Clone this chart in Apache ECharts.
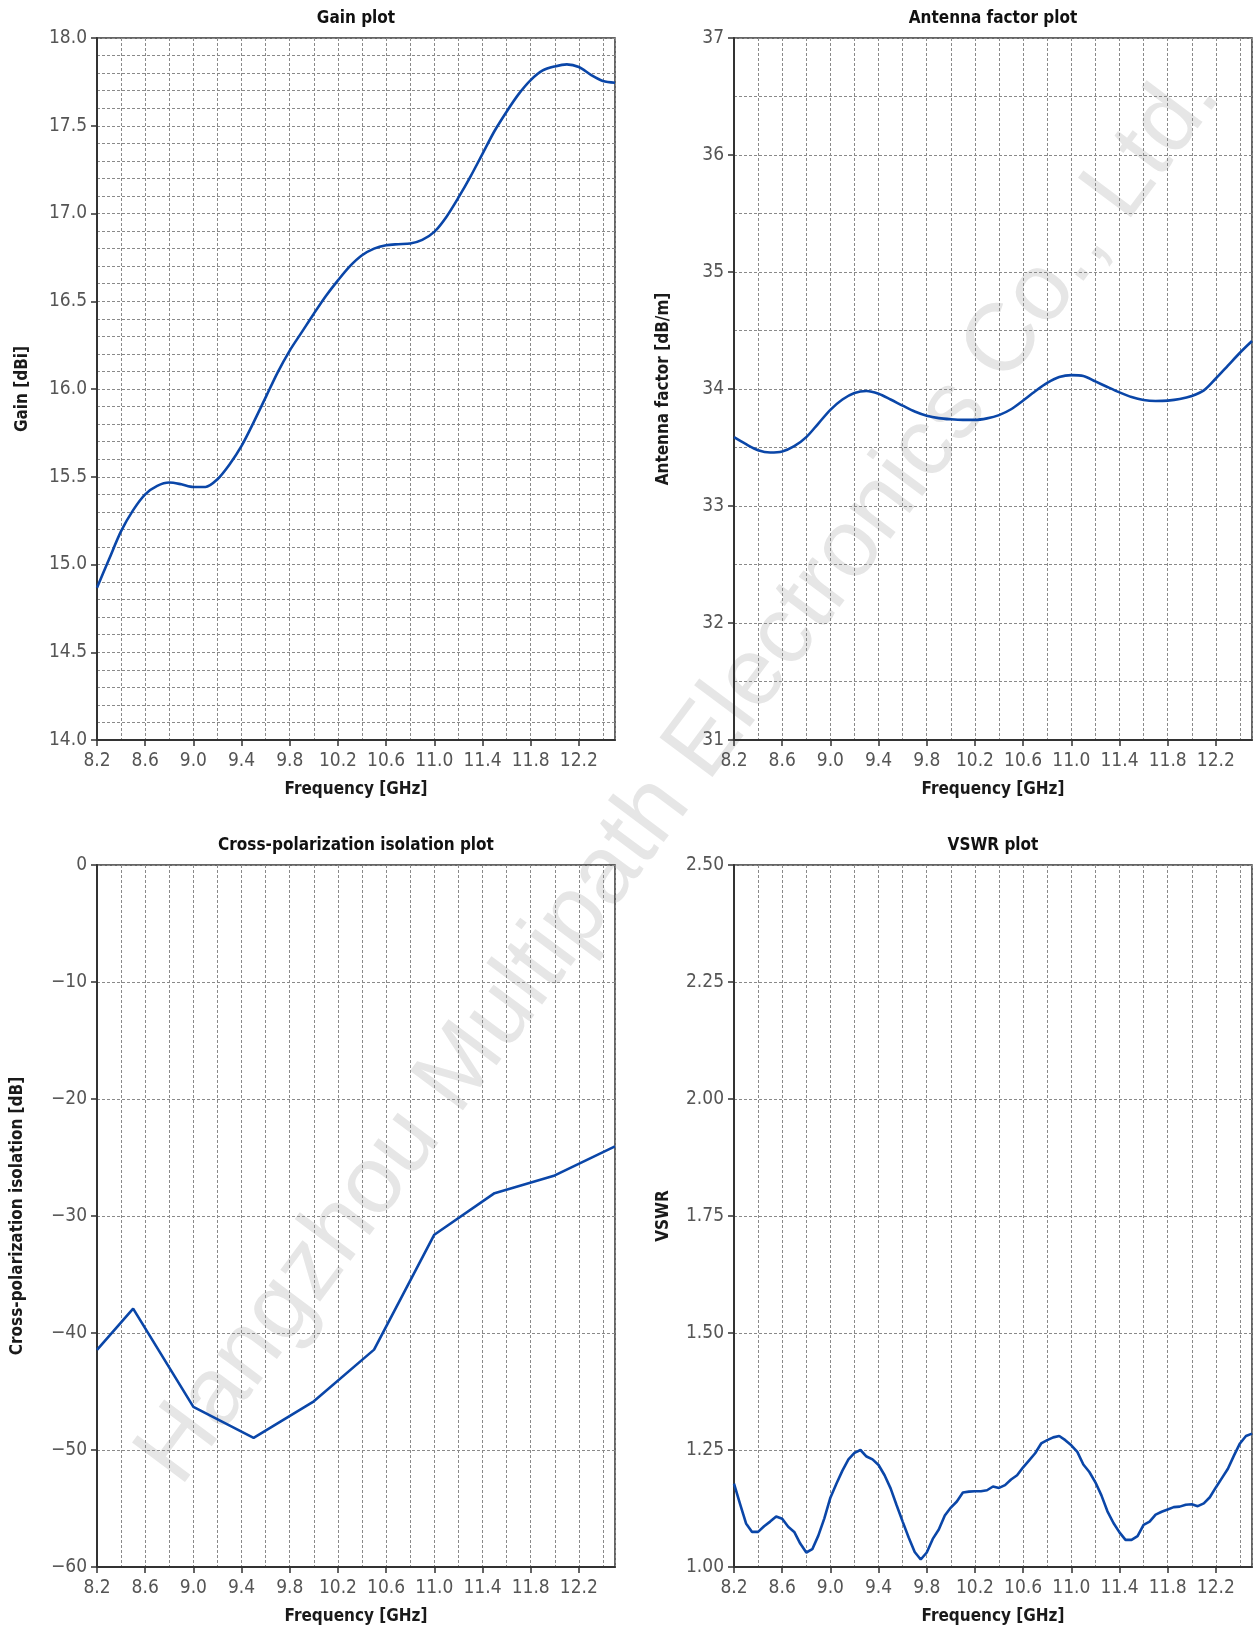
<!DOCTYPE html>
<html><head><meta charset="utf-8">
<script src="https://cdn.jsdelivr.net/npm/echarts@6/dist/echarts.min.js"></script>
<style>html,body{margin:0;padding:0;background:#fff}#c{width:1258px;height:1630px}</style>
</head><body><div id="c"></div>
<script>
// ---- tick labels ----
const freqTicks = [8.2, 8.6, 9.0, 9.4, 9.8, 10.2, 10.6, 11.0, 11.4, 11.8, 12.2];

// ---- Gain plot ----
const gainFreq = [8.2,8.3,8.4,8.5,8.6,8.7,8.8,8.9,9.0,9.1,9.2,9.3,9.4,9.5,9.6,9.7,9.8,9.9,10.0,10.1,10.2,10.3,10.4,10.5,10.6,10.7,10.8,10.9,11.0,11.1,11.2,11.3,11.4,11.5,11.6,11.7,11.8,11.9,12.0,12.1,12.2,12.3,12.4,12.5];
const gainDb = [14.867,15.03,15.19,15.31,15.40,15.448,15.467,15.457,15.442,15.442,15.486,15.57,15.676,15.81,15.952,16.095,16.219,16.324,16.429,16.53,16.619,16.70,16.762,16.80,16.819,16.825,16.829,16.85,16.895,16.98,17.09,17.21,17.34,17.47,17.58,17.68,17.76,17.815,17.838,17.85,17.835,17.79,17.755,17.745];

// ---- Antenna factor plot ----
const afFreq = [8.2,8.3,8.4,8.5,8.6,8.7,8.8,8.9,9.0,9.1,9.2,9.3,9.4,9.5,9.6,9.7,9.8,9.9,10.0,10.1,10.2,10.3,10.4,10.5,10.6,10.7,10.8,10.9,11.0,11.1,11.2,11.3,11.4,11.5,11.6,11.7,11.8,11.9,12.0,12.1,12.2,12.3,12.4,12.5];
const afDbm = [33.588,33.528,33.477,33.457,33.466,33.511,33.589,33.705,33.822,33.910,33.966,33.983,33.959,33.910,33.858,33.808,33.772,33.751,33.741,33.736,33.736,33.749,33.777,33.827,33.902,33.981,34.052,34.102,34.119,34.112,34.065,34.017,33.971,33.931,33.906,33.898,33.901,33.914,33.940,33.988,34.09,34.20,34.31,34.41];

// ---- Cross-polarization isolation plot ----
const xpolFreq = [8.2,8.5,9.0,9.5,10.0,10.5,11.0,11.5,12.0,12.5];
const xpolDb = [-41.45,-37.92,-46.32,-48.97,-45.84,-41.42,-31.6,-28.05,-26.53,-24.05];

// ---- VSWR plot ----
const vswrFreq = [8.20,8.25,8.30,8.35,8.40,8.45,8.50,8.55,8.60,8.65,8.70,8.75,8.80,8.85,8.90,8.95,9.00,9.05,9.10,9.15,9.20,9.25,9.30,9.35,9.40,9.45,9.50,9.55,9.60,9.65,9.70,9.75,9.80,9.85,9.90,9.95,10.00,10.05,10.10,10.15,10.20,10.25,10.30,10.35,10.40,10.45,10.50,10.55,10.60,10.65,10.70,10.75,10.80,10.85,10.90,10.95,11.00,11.05,11.10,11.15,11.20,11.25,11.30,11.35,11.40,11.45,11.50,11.55,11.60,11.65,11.70,11.75,11.80,11.85,11.90,11.95,12.00,12.05,12.10,12.15,12.20,12.25,12.30,12.35,12.40,12.45,12.50];
const vswrVal = [1.178,1.135,1.093,1.075,1.075,1.087,1.097,1.108,1.103,1.086,1.075,1.050,1.031,1.038,1.067,1.104,1.148,1.178,1.206,1.230,1.244,1.250,1.236,1.230,1.218,1.196,1.168,1.132,1.097,1.063,1.032,1.016,1.031,1.060,1.080,1.110,1.127,1.140,1.159,1.161,1.162,1.162,1.164,1.172,1.169,1.175,1.187,1.196,1.213,1.228,1.243,1.264,1.271,1.277,1.280,1.271,1.260,1.246,1.219,1.203,1.181,1.153,1.119,1.094,1.074,1.058,1.058,1.066,1.090,1.097,1.112,1.118,1.123,1.128,1.129,1.133,1.134,1.130,1.136,1.149,1.170,1.190,1.210,1.238,1.264,1.280,1.285];

const FONT = "'Liberation Sans Narrow','DejaVu Sans Condensed',sans-serif";
const LINE = '#0a46a8';
const GRIDC = '#8a8a8a';

const panels = [
  {title:'Gain plot', yName:'Gain [dBi]', yMin:14, yMax:18, yInt:0.5, yMinor:0.1, dec:1, yGap:66, freq:gainFreq, vals:gainDb, smooth:0.3,
   rect:{left:97, top:38, width:518, height:702}},
  {title:'Antenna factor plot', yName:'Antenna factor [dB/m]', yMin:31, yMax:37, yInt:1, yMinor:0.5, dec:0, yGap:62, freq:afFreq, vals:afDbm, smooth:0.3,
   rect:{left:734, top:38, width:518, height:702}},
  {title:'Cross-polarization isolation plot', yName:'Cross-polarization isolation [dB]', yMin:-60, yMax:0, yInt:10, yMinor:10, dec:0, yGap:71, freq:xpolFreq, vals:xpolDb, smooth:false,
   rect:{left:97, top:865, width:518, height:702}},
  {title:'VSWR plot', yName:'VSWR', yMin:1.0, yMax:2.5, yInt:0.25, yMinor:0.25, dec:2, yGap:62, freq:vswrFreq, vals:vswrVal, smooth:false,
   rect:{left:734, top:865, width:518, height:702}}
];

const grid = [], xAxis = [], yAxis = [], series = [], graphic = [];
panels.forEach((p, i) => {
  grid.push(Object.assign({show:true, borderColor:'#333', borderWidth:1.5, backgroundColor:'transparent'}, p.rect));
  xAxis.push({
    type:'value', gridIndex:i, min:8.2, max:12.5, interval:0.4,
    axisLine:{show:true, onZero:false, lineStyle:{color:'#333', width:2}},
    axisTick:{show:true, customValues:freqTicks, length:6, lineStyle:{color:'#333', width:1.5}},
    axisLabel:{customValues:freqTicks, formatter:v => v.toFixed(1), color:'#555', fontSize:19, fontFamily:FONT, margin:12},
    splitLine:{show:false},
    name:'Frequency [GHz]', nameLocation:'middle', nameGap:41,
    nameTextStyle:{color:'#1a1a1a', fontSize:17, fontWeight:'bold', fontFamily:FONT}
  });
  xAxis.push({
    type:'value', gridIndex:i, min:8.2, max:12.5, interval:0.2, position:'bottom',
    axisLine:{show:false}, axisTick:{show:false}, axisLabel:{show:false},
    splitLine:{show:true, lineStyle:{color:GRIDC, width:1, type:[3,2]}}
  });
  yAxis.push({
    type:'value', gridIndex:i, min:p.yMin, max:p.yMax, interval:p.yInt,
    axisLine:{show:true, onZero:false, lineStyle:{color:'#333', width:2}},
    axisTick:{show:true, length:6, lineStyle:{color:'#333', width:1.5}},
    axisLabel:{formatter:v => v.toFixed(p.dec).replace('-', '\u2212'), color:'#555', fontSize:19, fontFamily:FONT, margin:10},
    splitLine:{show:false},
    name:p.yName, nameLocation:'middle', nameGap:p.yGap, nameRotate:90,
    nameTextStyle:{color:'#1a1a1a', fontSize:17, fontWeight:'bold', fontFamily:FONT}
  });
  yAxis.push({
    type:'value', gridIndex:i, min:p.yMin, max:p.yMax, interval:p.yMinor, position:'left',
    axisLine:{show:false}, axisTick:{show:false}, axisLabel:{show:false},
    splitLine:{show:true, lineStyle:{color:GRIDC, width:1, type:[3,2]}}
  });
  series.push({
    type:'line', xAxisIndex:2*i, yAxisIndex:2*i,
    data:p.freq.map((f, k) => [f, p.vals[k]]),
    symbol:'none', showSymbol:false, smooth:p.smooth, z:5,
    lineStyle:{color:LINE, width:2.6}, silent:true
  });
  graphic.push({
    type:'text', x:p.rect.left + p.rect.width/2, y:p.rect.top - 19, silent:true,
    style:{text:p.title, font:"bold 17px " + FONT, fill:'#111', align:'center', verticalAlign:'middle', textAlign:'center', textVerticalAlign:'middle'}
  });
});

graphic.push({
  type:'text', x:680, y:776, rotation:53.2*Math.PI/180, z:-10, silent:true,
  style:{text:'Hangzhou Multipath Electronics Co., Ltd.', font:"96px 'Liberation Sans', Arial, sans-serif", fill:'#e6e6e6',
         align:'center', verticalAlign:'middle', textAlign:'center', textVerticalAlign:'middle'}
});

const chart = echarts.init(document.getElementById('c'), null, {renderer:'canvas'});
chart.setOption({
  backgroundColor:'#ffffff',
  animation:false,
  grid, xAxis, yAxis, series, graphic
});
</script>
</body></html>
